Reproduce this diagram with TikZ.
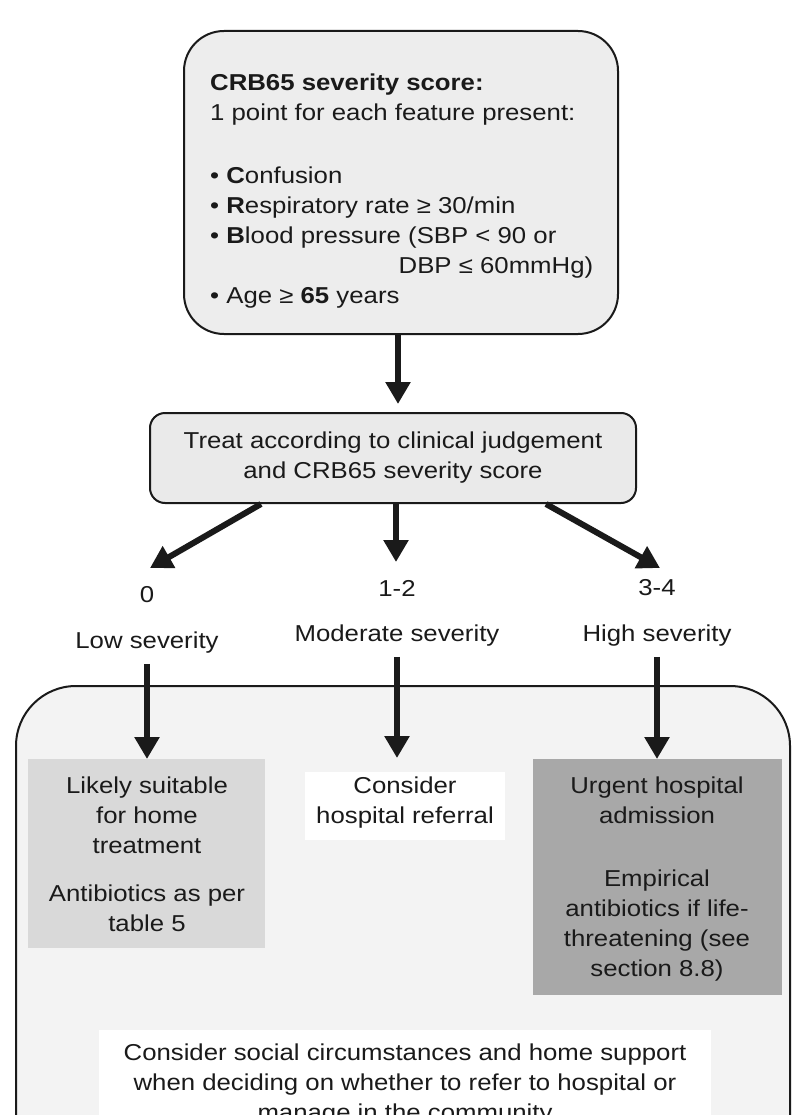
\documentclass[tikz,border=0pt]{standalone}
\usepackage{fontspec}
\setmainfont{Liberation Sans}[FakeStretch=1.12]
\usetikzlibrary{arrows.meta,calc}
\definecolor{topfill}{HTML}{EDEDED}
\definecolor{midfill}{HTML}{EAEAEA}
\definecolor{outerfill}{HTML}{F3F3F3}
\definecolor{lowfill}{HTML}{D9D9D9}
\definecolor{highfill}{HTML}{A8A8A8}
\definecolor{txt}{HTML}{1A1A1A}
\tikzset{
  frame/.style={draw=txt, line width=2pt},
  bigarrow/.style={draw=txt, line width=6pt, -{Triangle[length=22pt,width=24pt]}},
  plain/.style={inner sep=0pt, align=center, text=txt},
}
\begin{document}
\begin{tikzpicture}[x=1pt,y=-1pt,font=\fontsize{23}{30}\selectfont]
\useasboundingbox (0,0) rectangle (796,1115);
\clip (0,0) rectangle (796,1115);
\fill[white] (0,0) rectangle (796,1115);

% top box
\node[frame, rounded corners=40pt, fill=topfill, anchor=north west,
      minimum width=434pt, minimum height=303pt] (score) at (183,30) {};
\node[plain, align=left, anchor=north west] (scoretext) at (210,74)
  {\textbf{CRB65 severity score:}\\
   1 point for each feature present:\\[33pt]
   • \textbf{C}onfusion\\
   • \textbf{R}espiratory rate ≥ 30/min\\
   • \textbf{B}lood pressure (SBP < 90 or\\
   \makebox[383pt][r]{DBP ≤ 60mmHg)}\\
   • Age ≥ \textbf{65} years};

% middle box
\node[frame, rounded corners=15pt, fill=midfill, minimum width=486pt,
      minimum height=90pt, align=center, text=txt] (treat) at (393,458)
  {Treat according to clinical judgement\\and CRB65 severity score};

\draw[bigarrow, shorten >=8pt] ($(score.south)+(-3,0)$) -- ($(score.south |- treat.north)+(-3,0)$);

% score labels
\node[plain] (s0) at (147,595) {0};
\node[plain] (s12) at (397,588) {1-2};
\node[plain] (s34) at (657,588) {3-4};
\node[plain] (low) at (147,643) {Low severity};
\node[plain] (mod) at (397,636) {Moderate severity};
\node[plain] (high) at (657,636) {High severity};

\coordinate (t0) at (150,568);
\coordinate (t12) at (396,562);
\coordinate (t34) at (660,568);
\draw[bigarrow] ($(treat.south)+(-132,0)$) -- (t0);
\draw[bigarrow] ($(treat.south)+(3,0)$) -- (t12);
\draw[bigarrow] ($(treat.south)+(153,0)$) -- (t34);

% outer box
\node[frame, rounded corners=60pt, fill=outerfill, anchor=north west,
      minimum width=774pt, minimum height=520pt] (outer) at (15,685) {};

% inner boxes
\node[fill=lowfill, anchor=north west, minimum width=237pt, minimum height=189pt, inner sep=0pt] (lowbox) at (28,759) {};
\node[fill=white, anchor=north west, minimum width=200pt, minimum height=68pt, inner sep=0pt] (midbox) at (305,772) {};
\node[fill=highfill, anchor=north west, minimum width=249pt, minimum height=236pt, inner sep=0pt] (highbox) at (533,759) {};
\node[fill=white, anchor=north west, minimum width=612pt, minimum height=120pt, inner sep=0pt] (socbox) at (99,1030) {};

\node[plain, anchor=north] (lowtext) at (147,777)
  {Likely suitable\\for home\\treatment\\[18pt]Antibiotics as per\\table 5};
\node[plain, anchor=north] (midtext) at (405,777)
  {Consider\\hospital referral};
\node[plain, anchor=north] (hightext) at (657,777)
  {Urgent hospital\\admission\\[33pt]Empirical\\antibiotics if life-\\threatening (see\\section 8.8)};
\node[plain, anchor=north] (soctext) at (405,1044)
  {Consider social circumstances and home support\\when deciding on whether to refer to hospital or\\manage in the community};

\draw[bigarrow, shorten <=10pt] (low.south) -- (lowbox.north -| low.south);
\draw[bigarrow, shorten <=10pt, shorten >=14pt] (mod.south) -- (midbox.north -| mod.south);
\draw[bigarrow, shorten <=10pt] (high.south) -- (highbox.north -| high.south);
\end{tikzpicture}
\end{document}
